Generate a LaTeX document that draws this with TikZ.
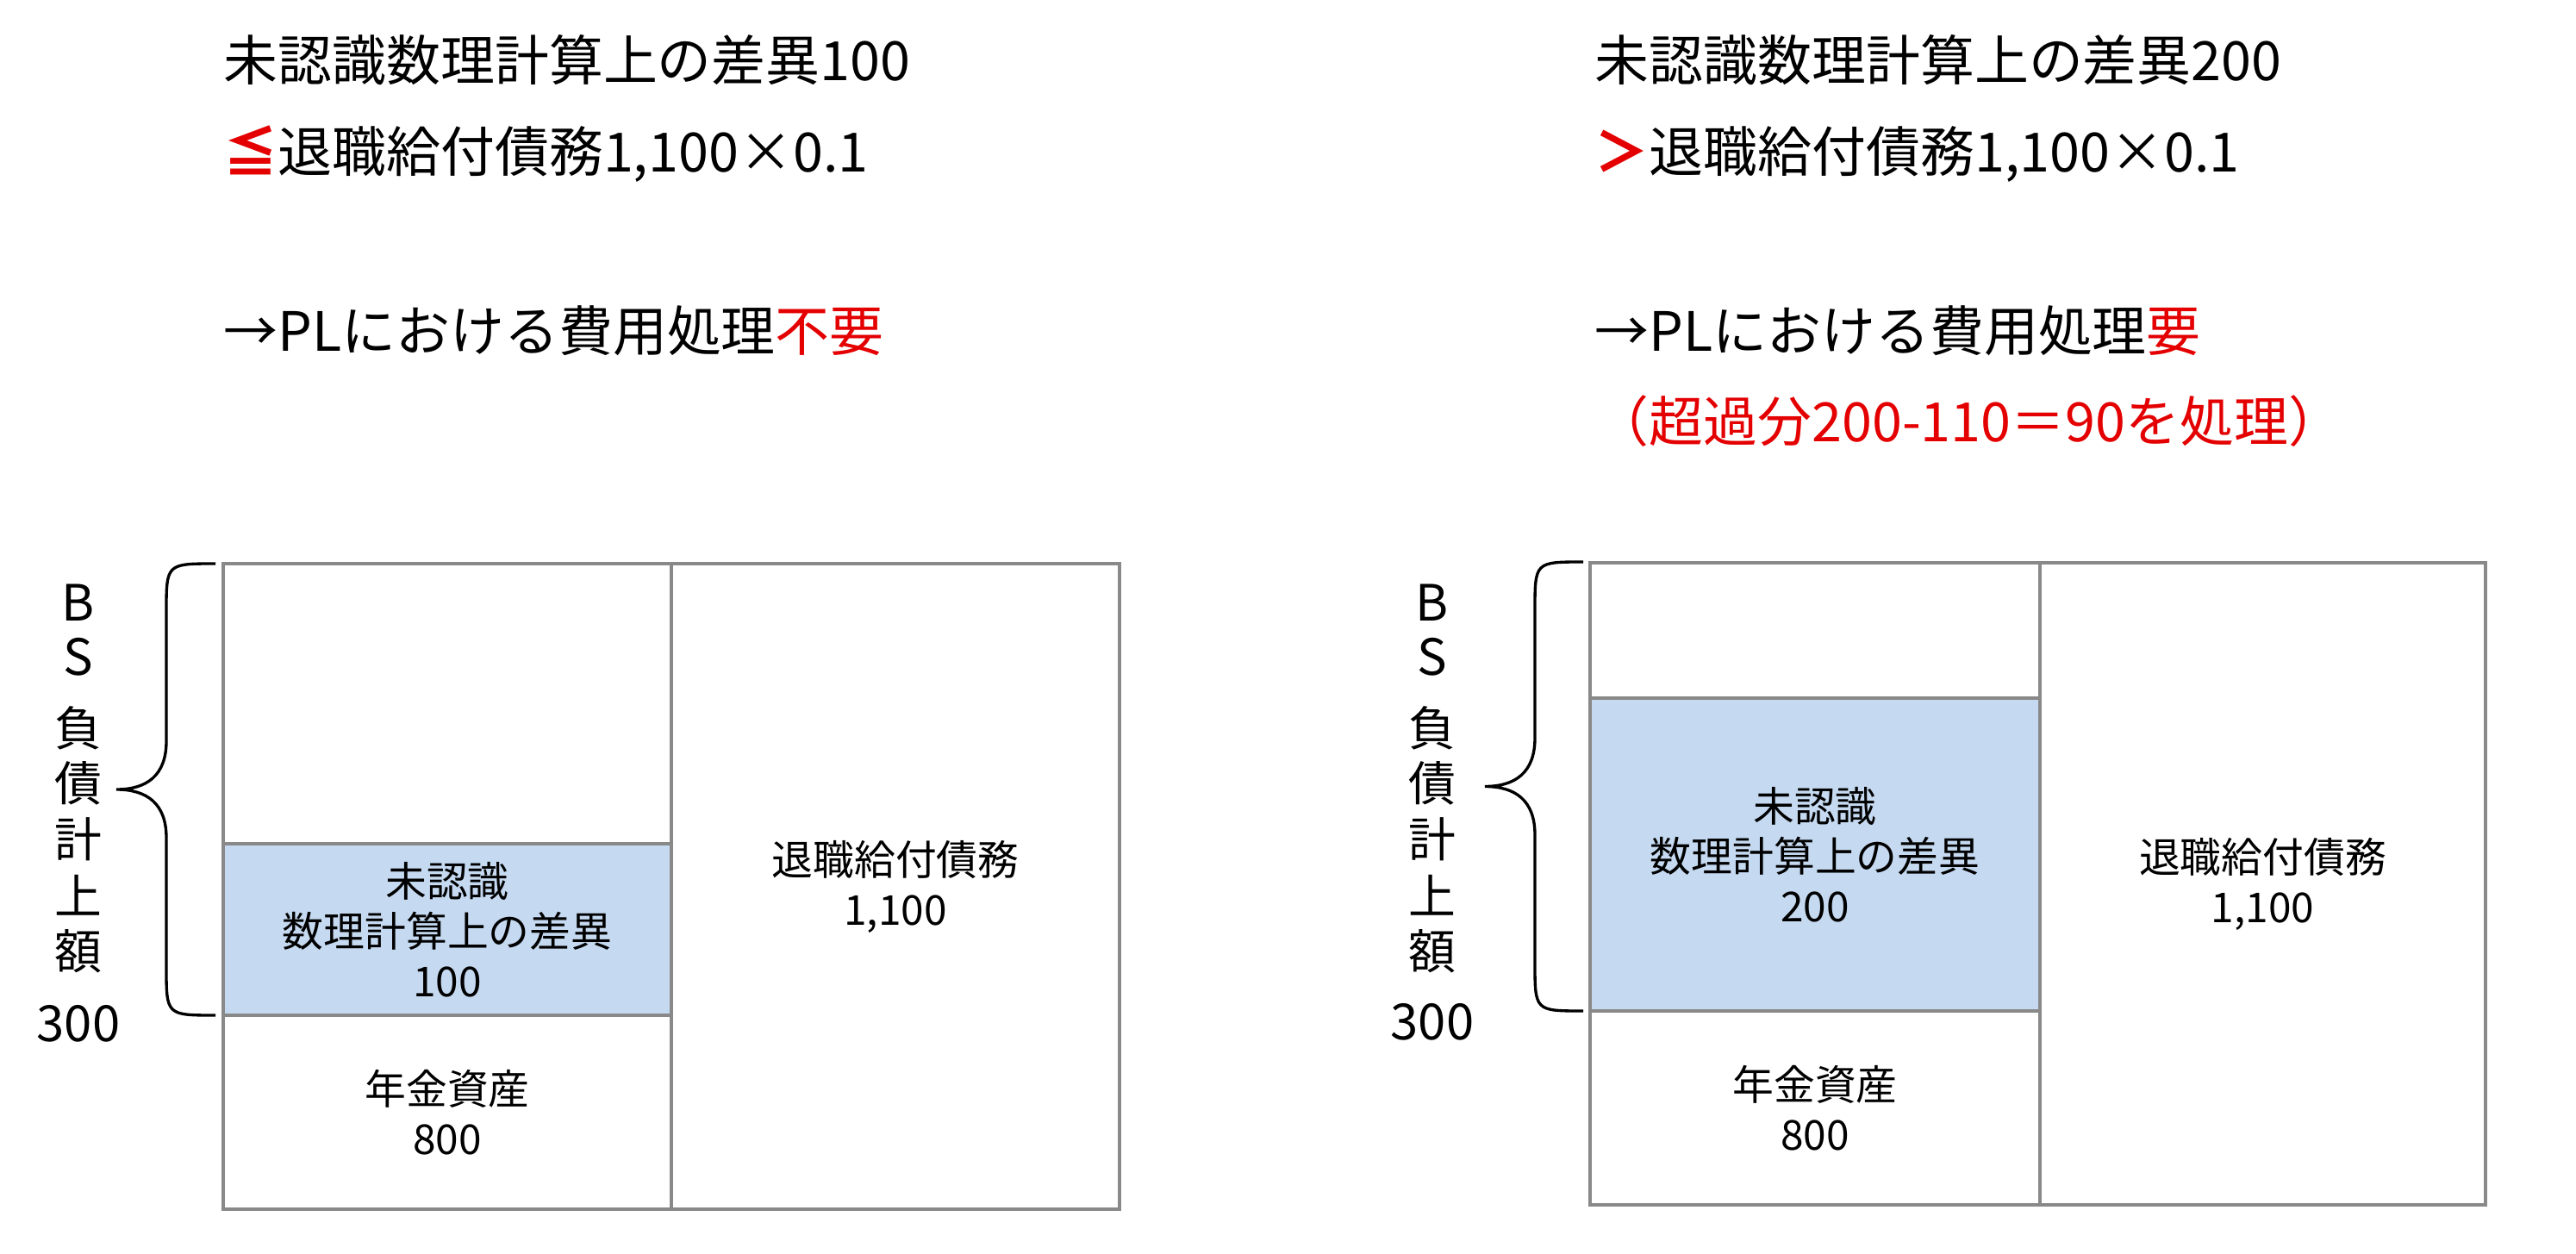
\documentclass[tikz,border=0pt]{standalone}
\usepackage{fontspec}
\setmainfont{Noto Sans CJK JP}
\definecolor{boxgray}{RGB}{137,137,137}
\definecolor{lightblue}{RGB}{197,217,240}
\definecolor{redtxt}{RGB}{228,0,0}
\begin{document}
\begin{tikzpicture}[
  title/.style={anchor=base west, inner sep=0pt, font=\fontsize{17.9}{21}\selectfont},
  cell/.style={draw=boxgray, line width=0.9pt, inner sep=0pt, align=center,
               font=\fontsize{13.6}{16.5}\selectfont},
  bluecell/.style={cell, fill=lightblue},
  bschar/.style={inner sep=0pt, font=\fontsize{15.6}{18}\selectfont},
  bslat/.style={inner sep=0pt, font=\fontsize{16.5}{18}\selectfont},
  bsnum/.style={inner sep=0pt, font=\fontsize{16.5}{18}\selectfont},
  bracestyle/.style={draw=black, line width=0.95pt}
]
\useasboundingbox (0,0) rectangle (29.89,-14.55);
\fill[white] (0,0) rectangle (29.89,-14.55);

% ---------------- left panel: titles
\node[title] (lt1) at (2.59,-0.94) {未認識数理計算上の差異100};
\node[title] (lt2) at (2.59,-2.00) {\textcolor{redtxt}{\bfseries ≦}退職給付債務1,100×0.1};
\node[title] (lt3) at (2.59,-4.07) {→PLにおける費用処理\textcolor{redtxt}{不要}};

% ---------------- right panel: titles
\node[title] (rt1) at (18.50,-0.94) {未認識数理計算上の差異200};
\node[title] (rt2) at (18.50,-2.00) {\textcolor{redtxt}{\bfseries ＞}退職給付債務1,100×0.1};
\node[title] (rt3) at (18.50,-4.07) {→PLにおける費用処理\textcolor{redtxt}{要}};
\node[title, text=redtxt] (rt4) at (18.50,-5.12) {（超過分200-110＝90を処理）};

% ---------------- left panel: boxes
\node[bluecell, minimum width=5.20cm, minimum height=1.99cm] (lblue) at (5.19,-10.785)
  {未認識\\数理計算上の差異\\100};
\node[cell, minimum width=5.20cm, minimum height=3.25cm] (ltop) at (5.19,-8.165) {};
\node[cell, minimum width=5.20cm, minimum height=2.25cm] (lasset) at (5.19,-12.905)
  {年金資産\\800};
\node[cell, minimum width=5.20cm, minimum height=7.49cm] (lobl) at (10.39,-10.285)
  {退職給付債務\\1,100};

% ---------------- right panel: boxes
\node[bluecell, minimum width=5.22cm, minimum height=3.63cm] (rblue) at (21.06,-9.915)
  {未認識\\数理計算上の差異\\200};
\node[cell, minimum width=5.22cm, minimum height=1.57cm] (rtop) at (21.06,-7.315) {};
\node[cell, minimum width=5.22cm, minimum height=2.25cm] (rasset) at (21.06,-12.855)
  {年金資産\\800};
\node[cell, minimum width=5.17cm, minimum height=7.45cm] (robl) at (26.255,-10.255)
  {退職給付債務\\1,100};

% ---------------- left brace
\coordinate (lbA) at (2.50,-6.54);
\coordinate (lbTip) at (1.35,-9.16);
\coordinate (lbB) at (2.50,-11.78);
\draw[bracestyle] (lbA) .. controls (1.93,-6.54) .. (1.93,-7.10) -- (1.93,-8.60)
  .. controls (1.93,-9.00) and (1.70,-9.16) .. (lbTip)
  .. controls (1.70,-9.16) and (1.93,-9.32) .. (1.93,-9.72) -- (1.93,-11.22)
  .. controls (1.93,-11.78) .. (lbB);

% ---------------- right brace
\coordinate (rbA) at (18.37,-6.52);
\coordinate (rbTip) at (17.23,-9.125);
\coordinate (rbB) at (18.37,-11.73);
\draw[bracestyle] (rbA) .. controls (17.81,-6.52) .. (17.81,-7.08) -- (17.81,-8.565)
  .. controls (17.81,-8.965) and (17.58,-9.125) .. (rbTip)
  .. controls (17.58,-9.125) and (17.81,-9.285) .. (17.81,-9.685) -- (17.81,-11.17)
  .. controls (17.81,-11.73) .. (rbB);

% ---------------- left vertical label
\node[bslat]  (lbs1) at (0.91,-6.99) {B};
\node[bslat]  (lbs2) at (0.91,-7.62) {S};
\node[bschar] (lbs3) at (0.91,-8.45) {負};
\node[bschar] (lbs4) at (0.91,-9.09) {債};
\node[bschar] (lbs5) at (0.91,-9.74) {計};
\node[bschar] (lbs6) at (0.91,-10.39) {上};
\node[bschar] (lbs7) at (0.91,-11.04) {額};
\node[bsnum]  (lbs8) at (0.91,-11.88) {300};

% ---------------- right vertical label
\node[bslat]  (rbs1) at (16.62,-6.99) {B};
\node[bslat]  (rbs2) at (16.62,-7.62) {S};
\node[bschar] (rbs3) at (16.62,-8.45) {負};
\node[bschar] (rbs4) at (16.62,-9.09) {債};
\node[bschar] (rbs5) at (16.62,-9.74) {計};
\node[bschar] (rbs6) at (16.62,-10.39) {上};
\node[bschar] (rbs7) at (16.62,-11.04) {額};
\node[bsnum]  (rbs8) at (16.62,-11.86) {300};
\end{tikzpicture}
\end{document}
